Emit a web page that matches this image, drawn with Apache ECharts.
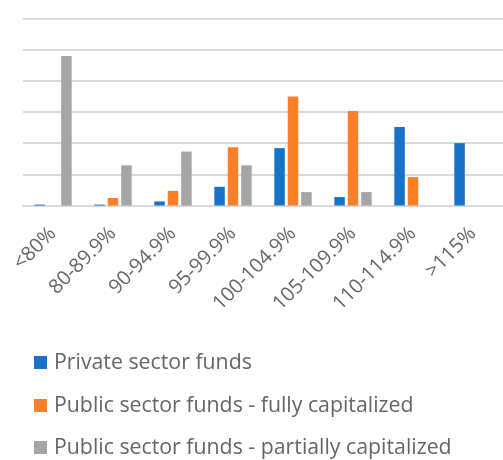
<!DOCTYPE html>
<html><head><meta charset="utf-8">
<script src="https://cdn.jsdelivr.net/npm/echarts@6/dist/echarts.min.js"></script>
<style>html,body{margin:0;padding:0;background:#fff}#c{width:503px;height:460px}</style>
</head><body><div id="c"></div>
<script>
const categories = ['<80%', '80-89.9%', '90-94.9%', '95-99.9%', '100-104.9%', '105-109.9%', '110-114.9%', '>115%'];
const privateFunds = [0.15, 0.15, 0.65, 3.0, 9.2, 1.35, 12.6, 10.0];
const publicFull = [0, 1.2, 2.35, 9.35, 17.5, 15.15, 4.55, 0];
const publicPartial = [24.0, 6.45, 8.65, 6.45, 2.15, 2.15, 0, 0];
const seriesNames = ['Private sector funds', 'Public sector funds - fully capitalized', 'Public sector funds - partially capitalized'];
const colors = ['#1872C8', '#FD7F28', '#A5A5A5'];

const chart = echarts.init(document.getElementById('c'));
const font = '"Open Sans", "Noto Sans", sans-serif';
const legendTops = [352, 395, 437];
chart.setOption({
  animation: false,
  color: colors,
  textStyle: {fontFamily: font},
  grid: {left: 23, right: 0, top: 18.5, bottom: 254.5, containLabel: false},
  xAxis: {
    type: 'category', data: categories,
    axisTick: {show: false},
    axisLine: {lineStyle: {color: '#d9d9d9', width: 2}},
    axisLabel: {interval: 0, rotate: 45, color: '#666666', fontSize: 20, margin: 25, fontFamily: font}
  },
  yAxis: {
    type: 'value', min: 0, max: 30, interval: 5,
    axisLabel: {show: false}, axisLine: {show: false}, axisTick: {show: false},
    splitLine: {lineStyle: {color: '#d9d9d9', width: 2}}
  },
  legend: seriesNames.map((n, i) => ({
    orient: 'vertical', left: 34, top: legendTops[i], padding: 0, icon: 'rect',
    itemWidth: 13, itemHeight: 13,
    textStyle: {color: '#666666', fontSize: 21.3, fontFamily: font, padding: [0, 0, 0, 2]},
    data: [n]
  })),
  series: [
    {name: seriesNames[0], type: 'bar', data: privateFunds, barWidth: 10.5, barGap: '28%'},
    {name: seriesNames[1], type: 'bar', data: publicFull, barWidth: 10.5, barGap: '28%'},
    {name: seriesNames[2], type: 'bar', data: publicPartial, barWidth: 10.5, barGap: '28%'}
  ]
});
</script></body></html>
